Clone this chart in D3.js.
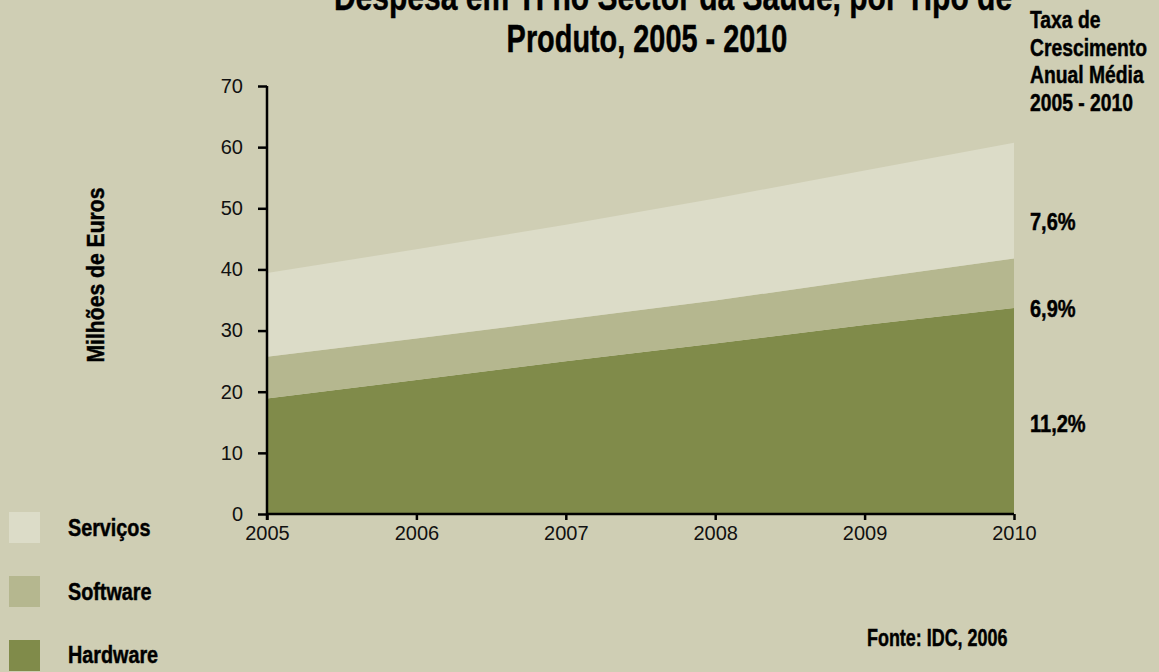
<!DOCTYPE html>
<html>
<head>
<meta charset="utf-8">
<script src="https://cdn.jsdelivr.net/npm/d3@7/dist/d3.min.js"></script>
<style>
  html, body { margin: 0; padding: 0; background: #cfceb4; }
  svg { display: block; }
  .cond { font-family: "Liberation Sans", Arial, sans-serif; font-weight: bold; fill: #000; stroke: #000; stroke-width: 0.45px; }
  .tick text { font-family: "Liberation Sans", Arial, sans-serif; font-size: 20px; fill: #111; }
</style>
</head>
<body>
<svg id="chart" width="1159" height="672"></svg>
<script>
// Spending on IT in the health sector, by product type (millions of euros)
const years    = [2005, 2006, 2007, 2008, 2009, 2010];
const hardware = [18.9, 21.9, 25.0, 27.9, 30.9, 33.7];
const software = [6.8, 6.8, 6.8, 7.0, 7.5, 8.1];
const servicos = [13.7, 14.6, 15.5, 16.7, 17.8, 18.9];

const seriesKeys   = ["Hardware", "Software", "Serviços"];
const seriesColors = ["#808b4a", "#b5b78f", "#dcdcc8"];
const growthLabels = ["11,2%", "6,9%", "7,6%"];
const yTicks = [0, 10, 20, 30, 40, 50, 60, 70];

const rows = years.map((y, i) => ({
  year: y, "Hardware": hardware[i], "Software": software[i], "Serviços": servicos[i]
}));

const svg = d3.select("#chart");

const x = d3.scaleLinear().domain([2005, 2010]).range([267, 1014]);
const y = d3.scaleLinear().domain([0, 70]).range([514, 86]);

const stacked = d3.stack().keys(seriesKeys)(rows);

const area = d3.area()
  .x(d => x(d.data.year))
  .y0(d => y(d[0]))
  .y1(d => y(d[1]));

svg.append("g").selectAll("path")
  .data(stacked)
  .join("path")
  .attr("d", area)
  .attr("fill", (d, i) => seriesColors[i]);

// Axes
const yAxis = d3.axisLeft(y).tickValues(yTicks).tickSize(9).tickPadding(15).tickFormat(d3.format("d"));
const gy = svg.append("g").attr("transform", `translate(${x(2005)},0)`).call(yAxis);
gy.select(".domain").attr("stroke", "#000").attr("stroke-width", 2.5)
  .attr("d", `M0,${y(70)}V${y(0) + 6}`);
gy.selectAll(".tick line").attr("stroke", "#000").attr("stroke-width", 2.5);

const xAxis = d3.axisBottom(x).tickValues(years).tickSize(6).tickPadding(6).tickFormat(d3.format("d"));
const gx = svg.append("g").attr("transform", `translate(0,${y(0)})`).call(xAxis);
gx.select(".domain").attr("stroke", "#000").attr("stroke-width", 2.5)
  .attr("d", `M${x(2005)},0H${x(2010)}`);
gx.selectAll(".tick line").attr("stroke", "#000").attr("stroke-width", 2.5);

// Condensed bold text: a bold face squeezed horizontally
function condText(parent, str, px, py, size, sx, anchor, rot) {
  const g = parent.append("g")
    .attr("transform", `translate(${px},${py})` + (rot ? ` rotate(${rot})` : "") + ` scale(${sx},1)`);
  g.append("text").attr("class", "cond").attr("font-size", size)
    .attr("text-anchor", anchor || "start").text(str);
  return g;
}

// Title (partly above the visible area)
condText(svg, "Despesa em TI no Sector da Saúde, por Tipo de", 673, 10, 38, 0.79, "middle");
condText(svg, "Produto, 2005 - 2010", 647, 52, 38, 0.76, "middle");

// Y axis title
condText(svg, "Milhões de Euros", 104, 275, 23, 0.92, "middle", -90);

// Growth rate header and values
const header = ["Taxa de", "Crescimento", "Anual Média", "2005 - 2010"];
header.forEach((t, i) => condText(svg, t, 1030, 28 + i * 27.5, 23, 0.84));

const growthY = [432, 317, 230];
growthLabels.forEach((t, i) => condText(svg, t, 1030, growthY[i], 23, 0.87));

// Legend
const legendOrder = [2, 1, 0];
legendOrder.forEach((k, i) => {
  svg.append("rect").attr("x", 9).attr("y", 512 + i * 64)
    .attr("width", 31).attr("height", 31).attr("fill", seriesColors[k]);
  condText(svg, seriesKeys[k], 68, 536 + i * 63.5, 23, 0.86);
});

// Source
condText(svg, "Fonte: IDC, 2006", 867, 646, 23, 0.78);
</script>
</body>
</html>
